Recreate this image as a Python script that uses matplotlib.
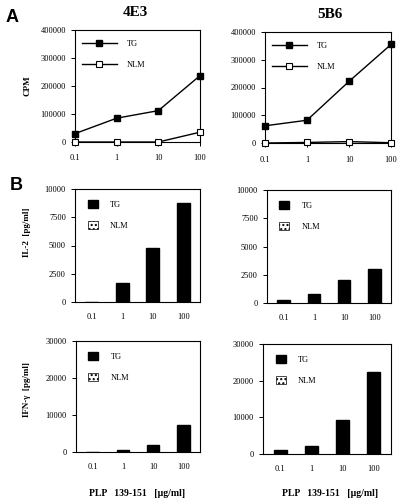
import matplotlib
matplotlib.use("Agg")
import matplotlib.pyplot as plt
from matplotlib.patches import Rectangle
from matplotlib.lines import Line2D
import numpy as np

plt.rcParams['font.family'] = ['Liberation Serif', 'DejaVu Serif']

conc = [0.1, 1, 10, 100]
conc_labels = ["0.1", "1", "10", "100"]

cpm_4e3_tg = [30000, 85000, 112000, 237000]
cpm_4e3_nlm = [0, 0, 0, 35000]
cpm_5b6_tg = [62000, 82000, 222000, 355000]
cpm_5b6_nlm = [0, 2000, 5000, 1000]

il2_4e3_tg = [0, 1700, 4800, 8750]
il2_5b6_tg = [300, 800, 2050, 3050]
ifn_4e3_tg = [0, 500, 2000, 7400]
ifn_5b6_tg = [1100, 2200, 9200, 22400]
nlm_bars = [0, 0, 0, 0]

W, H = 400, 504
fig = plt.figure(figsize=(W/100, H/100), dpi=100)

def ax_px(l, r, t, b):
    return fig.add_axes([l/W, 1 - b/H, (r-l)/W, (b-t)/H])

def style(ax):
    for s in ax.spines.values():
        s.set_linewidth(0.8)
    ax.tick_params(axis='both', labelsize=6, length=3, width=0.7, direction='out')

def line_panel(ax, tg, nlm):
    ax.plot(conc, tg, '-', color='black', lw=1, marker='s', ms=5, mfc='black', mec='black', clip_on=False, zorder=3)
    ax.plot(conc, nlm, '-', color='black', lw=1, marker='s', ms=5, mfc='white', mec='black', mew=0.8, clip_on=False, zorder=3)
    ax.set_xscale('log')
    ax.set_xlim(0.1, 100)
    ax.set_ylim(0, 400000)
    ax.set_yticks([0, 100000, 200000, 300000, 400000])
    ax.set_yticklabels(["0", "100000", "200000", "300000", "400000"])
    ax.set_xticks(conc)
    ax.set_xticklabels(conc_labels)
    ax.minorticks_off()
    ax.xaxis.set_minor_locator(matplotlib.ticker.NullLocator())
    style(ax)
    ax.tick_params(axis='x', pad=6)
    h1 = Line2D([], [], color='black', lw=1, marker='s', ms=5, mfc='black', mec='black')
    h2 = Line2D([], [], color='black', lw=1, marker='s', ms=5, mfc='white', mec='black', mew=0.8)
    ax.legend([h1, h2], ["TG", "NLM"], loc='upper left', frameon=False, fontsize=6,
              handlelength=4.2, labelspacing=1.6, borderaxespad=0.4, handletextpad=1.2,
              bbox_to_anchor=(0.0, 0.97))

def bar_panel(ax, tg, ymax, ticks, ticklabels):
    x = np.arange(len(conc))
    ax.bar(x, tg, width=0.42, color='black', edgecolor='black', zorder=2)
    ax.bar(x + 0.42, nlm_bars, width=0.42, color='white', edgecolor='black', hatch='....', lw=0.5, zorder=2)
    ax.set_xlim(-0.55, 3.55)
    ax.set_ylim(0, ymax)
    ax.set_yticks(ticks)
    ax.set_yticklabels(ticklabels)
    ax.set_xticks(x)
    ax.set_xticklabels(conc_labels)
    style(ax)
    ax.tick_params(axis='x', length=0, pad=8)
    h1 = Rectangle((0, 0), 1, 1, facecolor='black', edgecolor='black')
    h2 = Rectangle((0, 0), 1, 1, facecolor='white', edgecolor='black', hatch='....', lw=0.5)
    ax.legend([h1, h2], ["TG", "NLM"], loc='upper left', frameon=False, fontsize=6,
              handlelength=1.2, handleheight=1.2, labelspacing=1.4, borderaxespad=0.5,
              handletextpad=1.5, bbox_to_anchor=(0.04, 0.97))

axA1 = ax_px(75, 200, 30, 142)
axA2 = ax_px(265, 391, 32, 143)
line_panel(axA1, cpm_4e3_tg, cpm_4e3_nlm)
line_panel(axA2, cpm_5b6_tg, cpm_5b6_nlm)

il2_ticks = [0, 2500, 5000, 7500, 10000]
il2_lbl = ["0", "2500", "5000", "7500", "10000"]
ifn_ticks = [0, 10000, 20000, 30000]
ifn_lbl = ["0", "10000", "20000", "30000"]

axB1 = ax_px(75, 200, 189, 302)
axB2 = ax_px(267, 391, 190, 303)
axC1 = ax_px(76, 200, 341, 452)
axC2 = ax_px(263, 391, 344, 454)
bar_panel(axB1, il2_4e3_tg, 10000, il2_ticks, il2_lbl)
bar_panel(axB2, il2_5b6_tg, 10000, il2_ticks, il2_lbl)
bar_panel(axC1, ifn_4e3_tg, 30000, ifn_ticks, ifn_lbl)
bar_panel(axC2, ifn_5b6_tg, 30000, ifn_ticks, ifn_lbl)

def ftext(x, y, s, **kw):
    fig.text(x/W, 1 - y/H, s, **kw)

ftext(135, 12, "4E3", ha='center', va='center', fontsize=11, fontweight='bold')
ftext(330, 15, "5B6", ha='center', va='center', fontsize=11, fontweight='bold')
ftext(12, 17, "A", ha='center', va='center', fontsize=13, fontweight='bold', family=['Liberation Sans', 'DejaVu Sans'])
ftext(16, 186, "B", ha='center', va='center', fontsize=13, fontweight='bold', family=['Liberation Sans', 'DejaVu Sans'])
ftext(27, 86, "CPM", ha='center', va='center', fontsize=6.5, fontweight='bold', rotation=90)
ftext(27, 232, "IL-2  [pg/ml]", ha='center', va='center', fontsize=6.5, fontweight='bold', rotation=90)
ftext(27, 390, "IFN-γ  [pg/ml]", ha='center', va='center', fontsize=6.5, fontweight='bold', rotation=90)
ftext(137, 493, "PLP   139-151   [µg/ml]", ha='center', va='center', fontsize=7, fontweight='bold')
ftext(330, 493, "PLP   139-151   [µg/ml]", ha='center', va='center', fontsize=7, fontweight='bold')

fig.savefig("out.png", dpi=100)
